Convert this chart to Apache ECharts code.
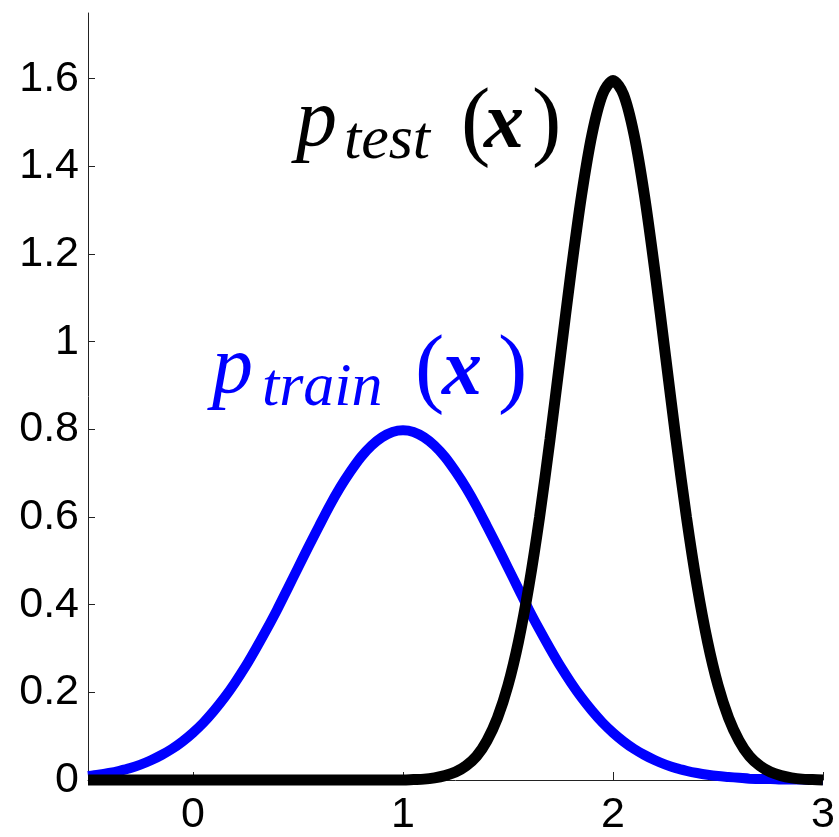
<!DOCTYPE html>
<html>
<head>
<meta charset="utf-8">
<script src="https://cdn.jsdelivr.net/npm/echarts@6/dist/echarts.min.js"></script>
<style>
  html, body { margin: 0; padding: 0; background: #fff; }
  #chart { width: 839px; height: 837px; }
</style>
</head>
<body>
<div id="chart"></div>
<script>
// x positions of the sampled points
const xs = [
  -0.5, -0.45, -0.4, -0.35, -0.3, -0.25, -0.2, -0.15, -0.1, -0.05,
  0, 0.05, 0.1, 0.15, 0.2, 0.25, 0.3, 0.35, 0.4, 0.45,
  0.5, 0.55, 0.6, 0.65, 0.7, 0.75, 0.8, 0.85, 0.9, 0.95,
  1, 1.05, 1.1, 1.15, 1.2, 1.25, 1.3, 1.35, 1.4, 1.45,
  1.5, 1.55, 1.6, 1.65, 1.7, 1.75, 1.8, 1.85, 1.9, 1.95,
  2, 2.05, 2.1, 2.15, 2.2, 2.25, 2.3, 2.35, 2.4, 2.45,
  2.5, 2.55, 2.6, 2.65, 2.7, 2.75, 2.8, 2.85, 2.9, 2.95,
  3
]
// p_train(x), blue curve
const pTrain = [
  0.009, 0.012, 0.016, 0.021, 0.027, 0.035, 0.045, 0.057, 0.071, 0.088,
  0.108, 0.131, 0.158, 0.188, 0.222, 0.259, 0.300, 0.343, 0.388, 0.436,
  0.484, 0.532, 0.579, 0.625, 0.667, 0.704, 0.737, 0.763, 0.782, 0.794,
  0.798, 0.794, 0.782, 0.763, 0.737, 0.704, 0.667, 0.625, 0.579, 0.532,
  0.484, 0.436, 0.388, 0.343, 0.300, 0.259, 0.222, 0.188, 0.158, 0.131,
  0.108, 0.088, 0.071, 0.057, 0.045, 0.035, 0.027, 0.021, 0.016, 0.012,
  0.009, 0.007, 0.005, 0.003, 0.002, 0.002, 0.001, 0.001, 0.001, 0,
  0
]
// p_test(x), black curve
const pTest = [
  0, 0, 0, 0, 0, 0, 0, 0, 0, 0,
  0, 0, 0, 0, 0, 0, 0, 0, 0, 0,
  0, 0, 0, 0, 0, 0, 0, 0, 0, 0,
  0, 0.001, 0.002, 0.005, 0.010, 0.018, 0.032, 0.054, 0.090, 0.142,
  0.216, 0.316, 0.444, 0.599, 0.777, 0.968, 1.159, 1.333, 1.473, 1.564,
  1.596, 1.564, 1.473, 1.333, 1.159, 0.968, 0.777, 0.599, 0.444, 0.316,
  0.216, 0.142, 0.090, 0.054, 0.032, 0.018, 0.010, 0.005, 0.002, 0.001,
  0
]
const xTicks = [0, 1, 2, 3]
const yTicks = [0, 0.2, 0.4, 0.6, 0.8, 1, 1.2, 1.4, 1.6]

const pairs = (ys) => xs.map((x, i) => [x, ys[i]])

const tickFont = { fontSize: 43, color: '#000', fontFamily: 'Liberation Sans' }

// latex-ish label: p_{sub}(x)
const mathLabel = (sub, color, w) => ({
  text: '{p|p}{s|' + sub + '}{o|(}{x|x}{c|)}',
  fill: color,
  align: 'left',
  verticalAlign: 'middle',
  rich: {
    p: { fontSize: 82, fontStyle: 'italic', fontFamily: 'Liberation Serif', width: w[0], padding: [0, 0, 6, 0] },
    s: { fontSize: 62, fontStyle: 'italic', fontFamily: 'Liberation Serif', width: w[1], padding: [32, 0, 0, 0] },
    o: { fontSize: 88, fontFamily: 'Liberation Serif', width: w[2] },
    x: { fontSize: 80, fontStyle: 'italic', fontWeight: 'bold', fontFamily: 'Liberation Serif', width: w[3] },
    c: { fontSize: 88, fontFamily: 'Liberation Serif', width: w[4] }
  }
})

const chart = echarts.init(document.getElementById('chart'))
chart.setOption({
  animation: false,
  backgroundColor: '#fff',
  grid: { left: 88, right: 16, top: 13, bottom: 52 },
  xAxis: {
    type: 'value',
    min: -0.5,
    max: 3,
    axisLine: { show: true, onZero: false, lineStyle: { color: '#222', width: 1 } },
    axisTick: { show: true, inside: true, length: 8, customValues: xTicks, lineStyle: { color: '#222' } },
    axisLabel: { ...tickFont, margin: 14, customValues: xTicks },
    splitLine: { show: false }
  },
  yAxis: {
    type: 'value',
    min: 0,
    max: 1.75,
    axisLine: { show: true, onZero: false, lineStyle: { color: '#222', width: 1 } },
    axisTick: { show: true, inside: true, length: 7, customValues: yTicks, lineStyle: { color: '#222' } },
    axisLabel: { ...tickFont, margin: 9, customValues: yTicks },
    splitLine: { show: false }
  },
  series: [
    {
      type: 'line',
      data: pairs(pTrain),
      smooth: 0.3,
      showSymbol: false,
      clip: false,
      lineStyle: { color: '#0000ff', width: 10, cap: 'butt' },
      z: 3
    },
    {
      type: 'line',
      data: pairs(pTest),
      smooth: 0.3,
      showSymbol: false,
      clip: false,
      lineStyle: { color: '#000', width: 11, cap: 'butt' },
      z: 4
    }
  ],
  graphic: [
    { type: 'text', x: 296, y: 126, z: 10, style: mathLabel('test', '#000', [48, 117, 23, 48, 18]) },
    { type: 'text', x: 212, y: 373, z: 10, style: mathLabel('train', '#0000ff', [50, 153, 27, 56, 20]) }
  ]
})
</script>
</body>
</html>
